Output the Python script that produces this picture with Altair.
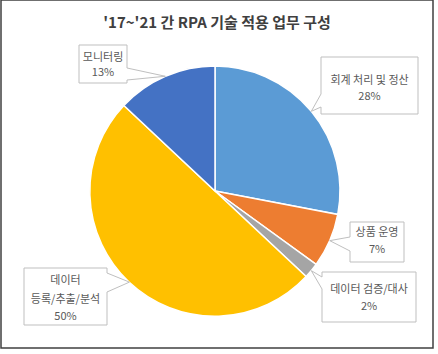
import math
import altair as alt
import pandas as pd

# ---- data ----
title_text = "'17~'21 간 RPA 기술 적용 업무 구성"
categories = ["회계 처리 및 정산", "상품 운영", "데이터 검증/대사", "데이터 등록/추출/분석", "모니터링"]
shares = [28, 7, 2, 50, 13]
colors = ["#5B9BD5", "#ED7D31", "#A5A5A5", "#FFC000", "#4472C4"]

# ---- layout (pixels inside the framed view) ----
CX, CY, R = 214, 191, 125
wrap_label = [False, False, False, True, False]
boxes = [  # x0, y0, x1, y1
    (320, 57, 417, 114),
    (349, 222, 403, 262),
    (321, 272, 415, 322),
    (23, 268, 106, 325),
    (78, 45, 126, 83),
]
line_ys = [
    [81, 97],
    [233, 250],
    [290, 307],
    [281, 300, 317],
    [58, 73],
]
wedge_bases = [  # two points on the box edge
    ((320, 94), (320, 107)),
    ((349, 237), (349, 251)),
    ((321, 277), (321, 289)),
    ((106, 273), (106, 292)),
    ((126, 68), (126, 80)),
]

pie_df = pd.DataFrame({"cat": categories, "share": shares, "idx": list(range(len(categories)))})

# pointer tips from the data (mid angle of each slice on the rim)
total = sum(shares)
tips = []
cum = 0
for s in shares:
    mid = (cum + s / 2) / total * 2 * math.pi
    tips.append((CX + R * math.sin(mid), CY - R * math.cos(mid)))
    cum += s

box_rows, text_rows, wedge_rows, gap_rows = [], [], [], []
for i, cat in enumerate(categories):
    x0, y0, x1, y1 = boxes[i]
    box_rows.append({"x0": x0, "y0": y0, "x1": x1, "y1": y1})
    lines = cat.split(" ", 1) if wrap_label[i] else [cat]
    lines = lines + [f"{shares[i]}%"]
    for t, yy in zip(lines, line_ys[i]):
        text_rows.append({"x": (x0 + x1) / 2, "y": yy, "t": t})
    (bx1, by1), (bx2, by2) = wedge_bases[i]
    tx, ty = tips[i]
    for k, (px, py) in enumerate([(bx1, by1), (tx, ty), (bx2, by2)]):
        wedge_rows.append({"id": i, "k": k, "x": px, "y": py})
    gap_rows.append({"gx": bx1, "gy": by1, "gx2": bx2, "gy2": by2})

FONT = "Noto Sans CJK KR"

pie = alt.Chart(pie_df).mark_arc(outerRadius=R, stroke="white", strokeWidth=1.5).encode(
    theta=alt.Theta("share:Q", stack=True),
    order=alt.Order("idx:Q"),
    color=alt.Color("cat:N", scale=alt.Scale(domain=categories, range=colors), legend=None),
    x=alt.value(CX),
    y=alt.value(CY),
)

box_layer = alt.Chart(pd.DataFrame(box_rows)).mark_rect(
    fill="white", stroke="#BFBFBF", strokeWidth=1
).encode(
    x=alt.X("x0:Q", scale=None, axis=None),
    x2="x1:Q",
    y=alt.Y("y0:Q", scale=None, axis=None),
    y2="y1:Q",
)

gap_layer = alt.Chart(pd.DataFrame(gap_rows)).mark_rule(color="white", strokeWidth=2.5).encode(
    x=alt.X("gx:Q", scale=None, axis=None),
    x2="gx2:Q",
    y=alt.Y("gy:Q", scale=None, axis=None),
    y2="gy2:Q",
)

wedge_layer = alt.Chart(pd.DataFrame(wedge_rows)).mark_line(color="#BFBFBF", strokeWidth=1).encode(
    x=alt.X("x:Q", scale=None, axis=None),
    y=alt.Y("y:Q", scale=None, axis=None),
    detail="id:N",
    order="k:Q",
)

text_layer = alt.Chart(pd.DataFrame(text_rows)).mark_text(
    font=FONT, fontSize=11, color="#595959", align="center", baseline="middle"
).encode(
    x=alt.X("x:Q", scale=None, axis=None),
    y=alt.Y("y:Q", scale=None, axis=None),
    text="t:N",
)

title_layer = alt.Chart(pd.DataFrame({"t": [title_text]})).mark_text(
    font=FONT, fontSize=15, fontWeight="bold", color="#404040", align="center", baseline="middle"
).encode(
    text="t:N",
    x=alt.value(216),
    y=alt.value(23),
)

chart = alt.layer(pie, box_layer, gap_layer, wedge_layer, text_layer, title_layer).properties(
    width=432,
    height=348,
    autosize=alt.AutoSizeParams(type="none"),
    padding={"left": 1, "top": 0, "right": 5, "bottom": 6},
    background="white",
).configure_view(stroke="#404040", strokeWidth=1.5)

chart.save("out.html", embed_options={"renderer": "svg", "actions": False})
